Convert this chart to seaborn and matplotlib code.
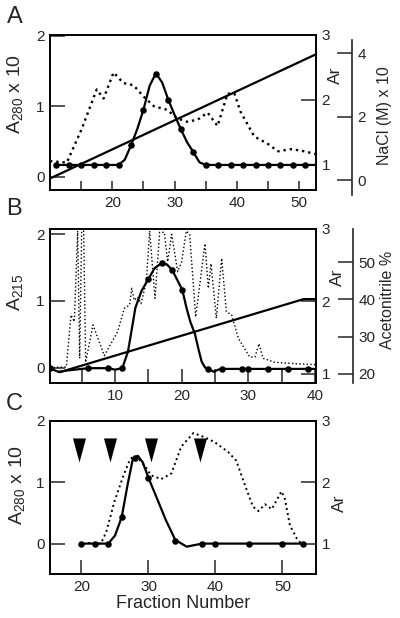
import matplotlib
matplotlib.use('Agg')
from matplotlib import pyplot as plt
import seaborn as sns

# ---- panel A : ion exchange (NaCl gradient) ----
a_dot_frac = [10, 12.7, 15.1, 17.5, 18.6, 20.2, 21.8, 23.4, 25.0, 26.7, 28.8, 30.4, 32.0,
              33.7, 35.3, 36.9, 38.5, 39.6, 40.6, 42.8, 44.9, 46.6, 48.7, 50.3, 52.7]
a_dot_a280 = [0.22, 0.20, 0.68, 1.24, 1.11, 1.48, 1.33, 1.30, 1.14, 1.00, 0.95, 0.83, 0.78,
              0.81, 0.91, 0.72, 1.18, 1.18, 0.92, 0.57, 0.47, 0.36, 0.39, 0.37, 0.32]
a_circ_frac = [11, 13, 15, 17, 19, 21, 23, 25, 27, 29, 31, 33, 35, 37, 39, 41, 43, 45, 47, 49, 51, 53]
a_circ_ar = [1.0, 1.0, 1.0, 1.0, 1.0, 1.0, 1.30, 1.85, 2.40, 2.0, 1.55, 1.20,
             1.0, 1.0, 1.0, 1.0, 1.0, 1.0, 1.0, 1.0, 1.0, 1.0]
a_curve_frac = [11, 21, 22, 23, 24, 25, 26, 27, 28, 29, 30, 31, 32, 33, 34, 35, 53]
a_curve_ar = [1.0, 1.0, 1.08, 1.30, 1.55, 1.85, 2.22, 2.41, 2.27, 2.0, 1.77, 1.55, 1.35, 1.20, 1.04, 1.0, 1.0]
a_grad_frac = [10, 52.7]
a_grad_nacl = [0.05, 3.97]

# ---- panel B : reverse phase (acetonitrile gradient) ----
b_dot_frac = [0.2, 2.7, 3.4, 3.9, 4.4, 4.7, 5.0, 5.3, 5.6, 6.7, 8.4, 10.4, 11.4, 12.2, 12.5,
              12.9, 13.4, 13.9, 14.7, 15.2, 16.0, 16.7, 17.4, 17.9, 18.5, 19.4, 20.0, 20.7,
              21.2, 22.1, 23.5, 24.0, 24.4, 25.2, 26.0, 26.7, 27.5, 28.5, 30.2, 31.0, 31.6,
              32.2, 34.0, 37.0, 40.2]
b_dot_a215 = [0.0, 0.01, 0.79, 0.69, 2.05, 0.14, 2.05, 2.05, 0.08, 0.64, 0.18, 0.54, 0.89, 0.94,
              1.19, 1.01, 1.06, 0.96, 1.29, 2.05, 1.04, 2.03, 2.03, 1.59, 2.0, 1.44, 1.59, 2.05,
              2.0, 0.76, 1.86, 1.19, 1.56, 0.74, 1.64, 0.84, 0.79, 0.44, 0.16, 0.16, 0.36,
              0.14, 0.08, 0.06, 0.045]
b_circ_frac = [0.2, 6, 9, 11, 15, 17, 18.6, 20, 24, 26, 29, 30, 33, 36, 39]
b_circ_ar = [1.08, 1.08, 1.08, 1.08, 2.31, 2.53, 2.43, 2.16, 1.07, 1.07, 1.07, 1.07, 1.07, 1.07, 1.07]
b_curve_frac = [0.2, 1.5, 3, 6, 9, 10, 11.1, 11.95, 12.45, 13.05, 13.95, 15, 15.95, 17, 17.8,
                18.6, 20.1, 20.7, 21.3, 22.0, 22.5, 23.0, 23.5, 24.1, 24.8, 25.5, 26.1, 40.2]
b_curve_ar = [1.08, 1.03, 1.05, 1.08, 1.08, 1.06, 1.08, 1.31, 1.58, 1.91, 2.14, 2.31, 2.46, 2.53,
              2.51, 2.43, 2.16, 1.92, 1.72, 1.55, 1.35, 1.17, 1.09, 1.07, 1.03, 1.06, 1.07, 1.07]
b_grad_frac = [1.7, 38.3, 40.2]
b_grad_acn = [20.4, 40.1, 40.1]

# ---- panel C : gel filtration ----
c_dot_frac = [21, 22.9, 23.7, 24.9, 26.2, 27.2, 27.7, 28.4, 29.4, 30.4, 31.9, 33.4, 34.9, 36.7,
              38.4, 39.9, 41.9, 43.1, 44.4, 45.6, 46.4, 47.4, 48.4, 49.85, 50.35, 51.1, 52.1, 52.8]
c_dot_a280 = [0.01, 0.0, 0.19, 0.68, 1.09, 1.36, 1.42, 1.40, 1.27, 1.11, 1.05, 1.14, 1.58, 1.80,
              1.73, 1.65, 1.49, 1.35, 0.95, 0.60, 0.53, 0.64, 0.56, 0.85, 0.73, 0.30, 0.09, 0.0]
c_circ_frac = [20, 22, 24, 26, 28, 30, 34, 38, 40, 45, 50, 53]
c_circ_ar = [1.0, 1.0, 1.0, 1.43, 2.39, 2.06, 1.05, 1.0, 1.0, 1.0, 1.0, 1.0]
c_curve_frac = [20, 22, 24, 25, 26, 26.9, 27.65, 28.4, 29.15, 30, 31.4, 32.6, 34, 35.7, 38, 40, 45, 50, 53]
c_curve_ar = [1.0, 1.0, 1.0, 1.13, 1.43, 1.97, 2.37, 2.43, 2.32, 2.07, 1.70, 1.38, 1.06, 0.95,
              1.0, 1.0, 1.0, 1.0, 1.0]
c_std_frac = [19.7, 24.3, 30.4, 37.65]
c_std_level = 1.53

sns.set_style('ticks')
plt.rcParams['font.family'] = ['Liberation Sans', 'DejaVu Sans']
plt.rcParams['mathtext.fontset'] = 'custom'
plt.rcParams['mathtext.rm'] = 'Liberation Sans'
plt.rcParams['mathtext.default'] = 'regular'

TICK = 10.8   # 15 px long inward ticks
LW_AX = 1.2
YLAB = 14     # left axis titles
ARLAB = 12.5
SIDELAB = 11.5

fig = plt.figure(figsize=(4, 6.18), dpi=100)


def panel(rect, xlim, ylim, arlim, xmaj, xmin, xlen):
    ax = fig.add_axes(rect)
    ax.set_xlim(xlim)
    ax.set_ylim(ylim)
    ax.set_yticks([0, 1, 2])
    ax.set_xticks(xmaj)
    ax.set_xticks(xmin, minor=True)
    ax.tick_params(axis='y', direction='in', length=TICK, width=1.1, labelsize=11, pad=4, right=False)
    ax.tick_params(axis='x', which='both', direction='in', length=xlen, width=1.1, labelsize=11,
                   pad=4, top=False)
    ar = ax.twinx()
    ar.set_ylim(arlim)
    ar.set_yticks([1, 2, 3])
    ar.tick_params(axis='y', direction='in', length=TICK, width=1.1, labelsize=11, pad=4)
    for a in (ax, ar):
        for s in a.spines.values():
            s.set_linewidth(LW_AX)
            s.set_color('k')
    return ax, ar


def curves(ax, ar, dfrac, dval, dlw, cfrac, cval, pfrac, pval):
    sns.lineplot(x=dfrac, y=dval, ax=ax, color='k', linestyle=':', lw=dlw,
                 estimator=None, sort=False, legend=False)
    sns.lineplot(x=cfrac, y=cval, ax=ar, color='k', lw=1.6,
                 estimator=None, sort=False, legend=False)
    sns.scatterplot(x=pfrac, y=pval, ax=ar, color='k', s=22, linewidth=0, legend=False)


# ----- A -----
axA, arA = panel([0.125, 0.6926, 0.665, 0.2508], (10, 52.7), (-0.19, 2.014), (0.615, 3.0),
                 [20, 30, 40, 50], [15, 25, 35, 45], 6.7)
curves(axA, arA, a_dot_frac, a_dot_a280, 1.7, a_curve_frac, a_curve_ar, a_circ_frac, a_circ_ar)
axA.set_ylabel('A$_{280}$ x 10', fontsize=YLAB)
axA.yaxis.set_label_coords(-0.094, 0.62)
arA.set_ylabel('Ar', fontsize=ARLAB)
arA.yaxis.set_label_coords(1.045, 0.742)

# NaCl axis sits a little lower and further right than the box
naA = fig.add_axes([0.125, 0.6845, 0.7543, 0.2508])
naA.patch.set_visible(False)
naA.set_xlim(10, 10 + (52.7 - 10) * 301.7 / 266)
naA.set_ylim(-0.47, 4.42)
sns.lineplot(x=a_grad_frac, y=a_grad_nacl, ax=naA, color='k', lw=1.6,
             estimator=None, sort=False, legend=False)
for side in ('top', 'left', 'bottom'):
    naA.spines[side].set_visible(False)
naA.spines['right'].set_linewidth(LW_AX)
naA.set_xticks([])
naA.yaxis.tick_right()
naA.yaxis.set_label_position('right')
naA.set_yticks([0, 2, 4])
naA.tick_params(axis='y', direction='in', length=TICK, width=1.1, labelsize=11, pad=4)
naA.set_ylabel('NaCl (M) x 10', fontsize=SIDELAB)
naA.yaxis.set_label_coords(1.084, 0.51)

# ----- B -----
axB, arB = panel([0.125, 0.3803, 0.665, 0.2492], (0.25, 40.15), (-0.23, 2.08), (0.876, 3.0),
                 [10, 20, 30, 40], [5, 15, 25, 35], 10)
curves(axB, arB, b_dot_frac, b_dot_a215, 1.0, b_curve_frac, b_curve_ar, b_circ_frac, b_circ_ar)
axB.set_ylabel('A$_{215}$', fontsize=YLAB)
axB.yaxis.set_label_coords(-0.094, 0.59)
arB.set_ylabel('Ar', fontsize=ARLAB)
arB.yaxis.set_label_coords(1.053, 0.688)

acB = axB.twinx()
acB.spines['right'].set_position(('outward', 26.4))
for side in ('top', 'left', 'bottom'):
    acB.spines[side].set_visible(False)
acB.spines['right'].set_linewidth(LW_AX)
acB.set_ylim(17.5, 59.0)
acB.set_yticks([20, 30, 40, 50])
acB.tick_params(axis='y', direction='in', length=TICK, width=1.1, labelsize=11, pad=4)
sns.lineplot(x=b_grad_frac, y=b_grad_acn, ax=acB, color='k', lw=1.6,
             estimator=None, sort=False, legend=False)
acB.set_ylabel('Acetonitrile %', fontsize=SIDELAB)
acB.yaxis.set_label_coords(1.241, 0.54)

# ----- C -----
axC, arC = panel([0.125, 0.0707, 0.665, 0.2485], (15.3, 55), (-0.5, 2.0), (0.5, 3.0),
                 [20, 30, 40, 50], [], 10)
curves(axC, arC, c_dot_frac, c_dot_a280, 1.4, c_curve_frac, c_curve_ar, c_circ_frac, c_circ_ar)
tri = [(-0.54, 1), (0.54, 1), (0, -1)]
sns.scatterplot(x=c_std_frac, y=[c_std_level] * len(c_std_frac), ax=axC, marker=tri,
                color='k', s=300, linewidth=0, legend=False)
axC.set_ylabel('A$_{280}$ x 10', fontsize=YLAB)
axC.yaxis.set_label_coords(-0.086, 0.58)
arC.set_ylabel('Ar', fontsize=ARLAB)
arC.yaxis.set_label_coords(1.06, 0.461)
axC.set_xlabel('Fraction Number', fontsize=13, labelpad=1)

for ax in (axA, axB):
    ax.set_xlabel('')
for ax in (arA, arB, arC):
    ax.set_xlabel('')

fig.text(0.0375, 0.9725, 'A', fontsize=17, ha='center', va='center')
fig.text(0.036, 0.6618, 'B', fontsize=17, ha='center', va='center')
fig.text(0.035, 0.3463, 'C', fontsize=17, ha='center', va='center')

fig.savefig('out.png', dpi=100)
